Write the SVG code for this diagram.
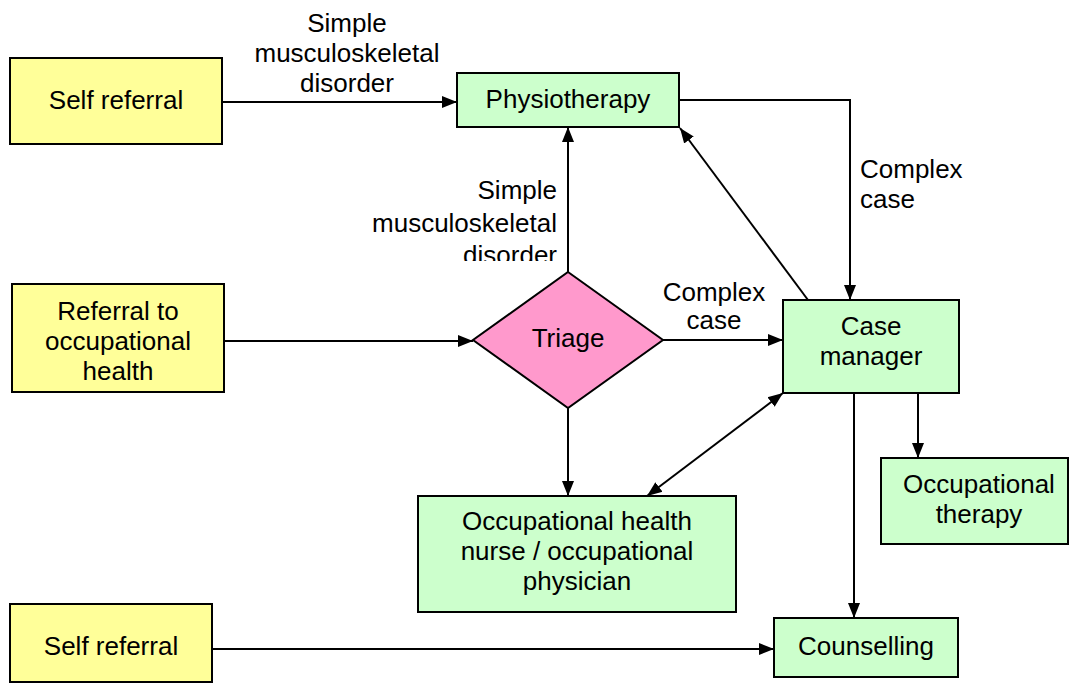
<svg xmlns="http://www.w3.org/2000/svg" width="1069" height="684" viewBox="0 0 1069 684">
<style>
.node{stroke:#000;stroke-width:2}
.yel{fill:#FFFF99}
.grn{fill:#CCFFCC}
.pnk{fill:#FF99CC}
text{font-family:"Liberation Sans",Arial,sans-serif;font-size:26px;fill:#000}
.c{text-anchor:middle}
.r{text-anchor:end}
.edge{stroke:#000;stroke-width:2;fill:none}
</style>
<defs>
<marker id="ah" markerUnits="userSpaceOnUse" markerWidth="16" markerHeight="14" refX="15" refY="6" orient="auto-start-reverse" viewBox="0 0 16 12">
<path d="M0,0 L15,6 L0,12 z" fill="#000"/>
</marker>
<clipPath id="clipLbl"><rect x="300" y="170" width="270" height="91"/></clipPath>
</defs>
<g id="connectors">
<line class="edge" x1="222" y1="102" x2="457" y2="102" marker-end="url(#ah)"/>
<line class="edge" x1="568" y1="272" x2="568" y2="127" marker-end="url(#ah)"/>
<polyline class="edge" points="679,100 850,100 850,300" marker-end="url(#ah)"/>
<line class="edge" x1="808" y1="300" x2="680" y2="128" marker-end="url(#ah)"/>
<line class="edge" x1="224" y1="341" x2="473" y2="341" marker-end="url(#ah)"/>
<line class="edge" x1="663" y1="340" x2="783" y2="340" marker-end="url(#ah)"/>
<line class="edge" x1="568" y1="408" x2="568" y2="496" marker-end="url(#ah)"/>
<line class="edge" x1="647" y1="496" x2="783" y2="393" marker-start="url(#ah)" marker-end="url(#ah)"/>
<line class="edge" x1="918" y1="393" x2="918" y2="458" marker-end="url(#ah)"/>
<line class="edge" x1="854" y1="393" x2="854" y2="618" marker-end="url(#ah)"/>
<line class="edge" x1="212" y1="649" x2="774" y2="649" marker-end="url(#ah)"/>
<text class="c" x="347" y="32">Simple</text>
<text class="c" x="347" y="62">musculoskeletal</text>
<text class="c" x="347" y="92">disorder</text>
<g clip-path="url(#clipLbl)">
<text class="r" x="557" y="199">Simple</text>
<text class="r" x="557" y="232">musculoskeletal</text>
<text class="r" x="557" y="264">disorder</text>
</g>
<text x="860" y="178">Complex</text>
<text x="860" y="208">case</text>
<text class="c" x="714" y="301">Complex</text>
<text class="c" x="714" y="329">case</text>
</g>
<g id="self-referral-1">
<rect class="node yel" x="10" y="58" width="212" height="86"/>
<text class="c" x="116" y="109">Self referral</text>
</g>
<g id="physiotherapy">
<rect class="node grn" x="457" y="73" width="222" height="54"/>
<text class="c" x="568" y="108">Physiotherapy</text>
</g>
<g id="referral-oh">
<rect class="node yel" x="12" y="284" width="212" height="108"/>
<text class="c" x="118" y="320">Referral to</text>
<text class="c" x="118" y="350">occupational</text>
<text class="c" x="118" y="380">health</text>
</g>
<g id="triage">
<polygon class="node pnk" points="568,272 663,340 568,408 473,340"/>
<text class="c" x="568" y="347">Triage</text>
</g>
<g id="case-manager">
<rect class="node grn" x="783" y="300" width="176" height="93"/>
<text class="c" x="871" y="335">Case</text>
<text class="c" x="871" y="365">manager</text>
</g>
<g id="occupational-therapy">
<rect class="node grn" x="881" y="458" width="187" height="86"/>
<text class="c" x="979" y="493">Occupational</text>
<text class="c" x="979" y="523">therapy</text>
</g>
<g id="oh-nurse">
<rect class="node grn" x="418" y="496" width="318" height="116"/>
<text class="c" x="577" y="530">Occupational health</text>
<text class="c" x="577" y="560">nurse / occupational</text>
<text class="c" x="577" y="590">physician</text>
</g>
<g id="self-referral-2">
<rect class="node yel" x="10" y="604" width="202" height="78"/>
<text class="c" x="111" y="655">Self referral</text>
</g>
<g id="counselling">
<rect class="node grn" x="774" y="618" width="184" height="59"/>
<text class="c" x="866" y="655">Counselling</text>
</g>
</svg>
